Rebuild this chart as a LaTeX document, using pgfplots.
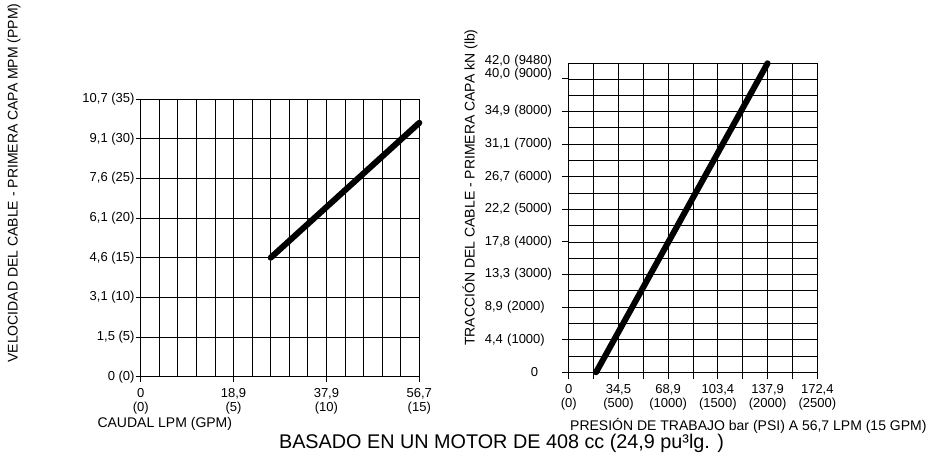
\documentclass[border=0pt]{standalone}
\usepackage{pgfplots}
\pgfplotsset{compat=1.18}
\usepackage{fontspec}
\setmainfont{Liberation Sans}
\newcommand{\tk}{\fontsize{13}{14}\selectfont}
\newcommand{\lb}{\fontsize{14}{16}\selectfont}
\begin{document}
\begin{tikzpicture}
\useasboundingbox (0,0) rectangle (933pt,462pt);
% ---------- left chart ----------
\begin{axis}[
  at={(140.7pt,85.3pt)}, anchor=south west,
  scale only axis, width=278.6pt, height=277.7pt,
  xmin=0, xmax=15, ymin=0, ymax=35,
  clip=false,
  xtick pos=bottom, ytick pos=left,
  xtick={0,5,10,15},
  xticklabels={{0\\(0)},{18,9\\(5)},{37,9\\(10)},{56,7\\(15)}},
  minor xtick={1,2,3,4,6,7,8,9,11,12,13,14},
  ytick={0,5,...,35},
  yticklabels={{0 (0)},{1,5 (5)},{3,1 (10)},{4,6 (15)},{6,1 (20)},{7,6 (25)},{9,1 (30)},{10,7 (35)}},
  grid=both,
  major grid style={black, line width=0.8pt},
  minor grid style={black, line width=0.8pt},
  axis line style={black, line width=0.9pt},
  tick align=outside, major tick length=5pt, minor tick length=0pt,
  tick style={black, line width=0.9pt},
  xticklabel style={align=center, font=\tk, inner sep=1pt, yshift=-6pt},
  yticklabel style={font=\tk, inner sep=1pt},
]
\addplot[black, line width=6pt, line cap=round] coordinates {(7,15) (15,32)};
\end{axis}
% ---------- right chart ----------
\begin{axis}[
  at={(568.7pt,89.7pt)}, anchor=south west,
  scale only axis, width=248.6pt, height=309pt,
  xmin=0, xmax=2500, ymin=0, ymax=9480,
  clip=false,
  xtick pos=bottom, ytick pos=left,
  xtick={0,250,...,2500},
  xticklabels={{0\\(0)},{},{34,5\\(500)},{},{68,9\\(1000)},{},{103,4\\(1500)},{},{137,9\\(2000)},{},{172,4\\(2500)}},
  ytick={0,1000,...,9000},
  yticklabels={{\hspace*{46pt}0},{4,4 (1000)},{8,9 (2000)},{13,3 (3000)},{17,8 (4000)},{22,2 (5000)},{26,7 (6000)},{31,1 (7000)},{34,9 (8000)},{\raisebox{4.5pt}[\height][\depth]{40,0 (9000)}}},
  minor y tick num=1,
  extra y ticks={9480},
  extra y tick labels={{42{,}0 (9480)}},
  extra y tick style={major tick length=0pt, yticklabel style={xshift=-7pt, yshift=2.5pt}},
  grid=both,
  major grid style={black, line width=0.8pt},
  minor grid style={black, line width=0.8pt},
  axis line style={black, line width=0.9pt},
  tick align=outside, major tick length=7pt, minor tick length=0pt,
  tick style={black, line width=0.9pt},
  xticklabel style={align=center, font=\tk, inner sep=1pt, yshift=-4pt},
  yticklabel style={font=\tk, text width=75.7pt, align=left, inner sep=0pt, xshift=-1pt},
]
\addplot[black, line width=6pt, line cap=round] coordinates {(275,0) (2000,9480)};
\end{axis}
% ---------- labels ----------
\node[rotate=90, font=\lb, inner sep=0pt] at (14pt,279pt) {VELOCIDAD DEL CABLE - PRIMERA CAPA MPM (PPM)};
\node[rotate=90, font=\lb, inner sep=0pt] at (470pt,274.5pt) {TRACCIÓN DEL CABLE - PRIMERA CAPA kN (lb)};
\node[anchor=west, font=\lb, inner sep=0pt] at (97.3pt,38pt) {CAUDAL LPM (GPM)};
\node[anchor=west, font=\lb, inner sep=0pt] at (570pt,36pt) {PRESIÓN DE TRABAJO bar (PSI) A 56,7 LPM (15 GPM)};
\node[font=\fontsize{19.8}{22}\selectfont, inner sep=0pt] at (501.5pt,19pt) {BASADO EN UN MOTOR DE 408 cc (24,9 pu³lg. )};
\end{tikzpicture}
\end{document}
